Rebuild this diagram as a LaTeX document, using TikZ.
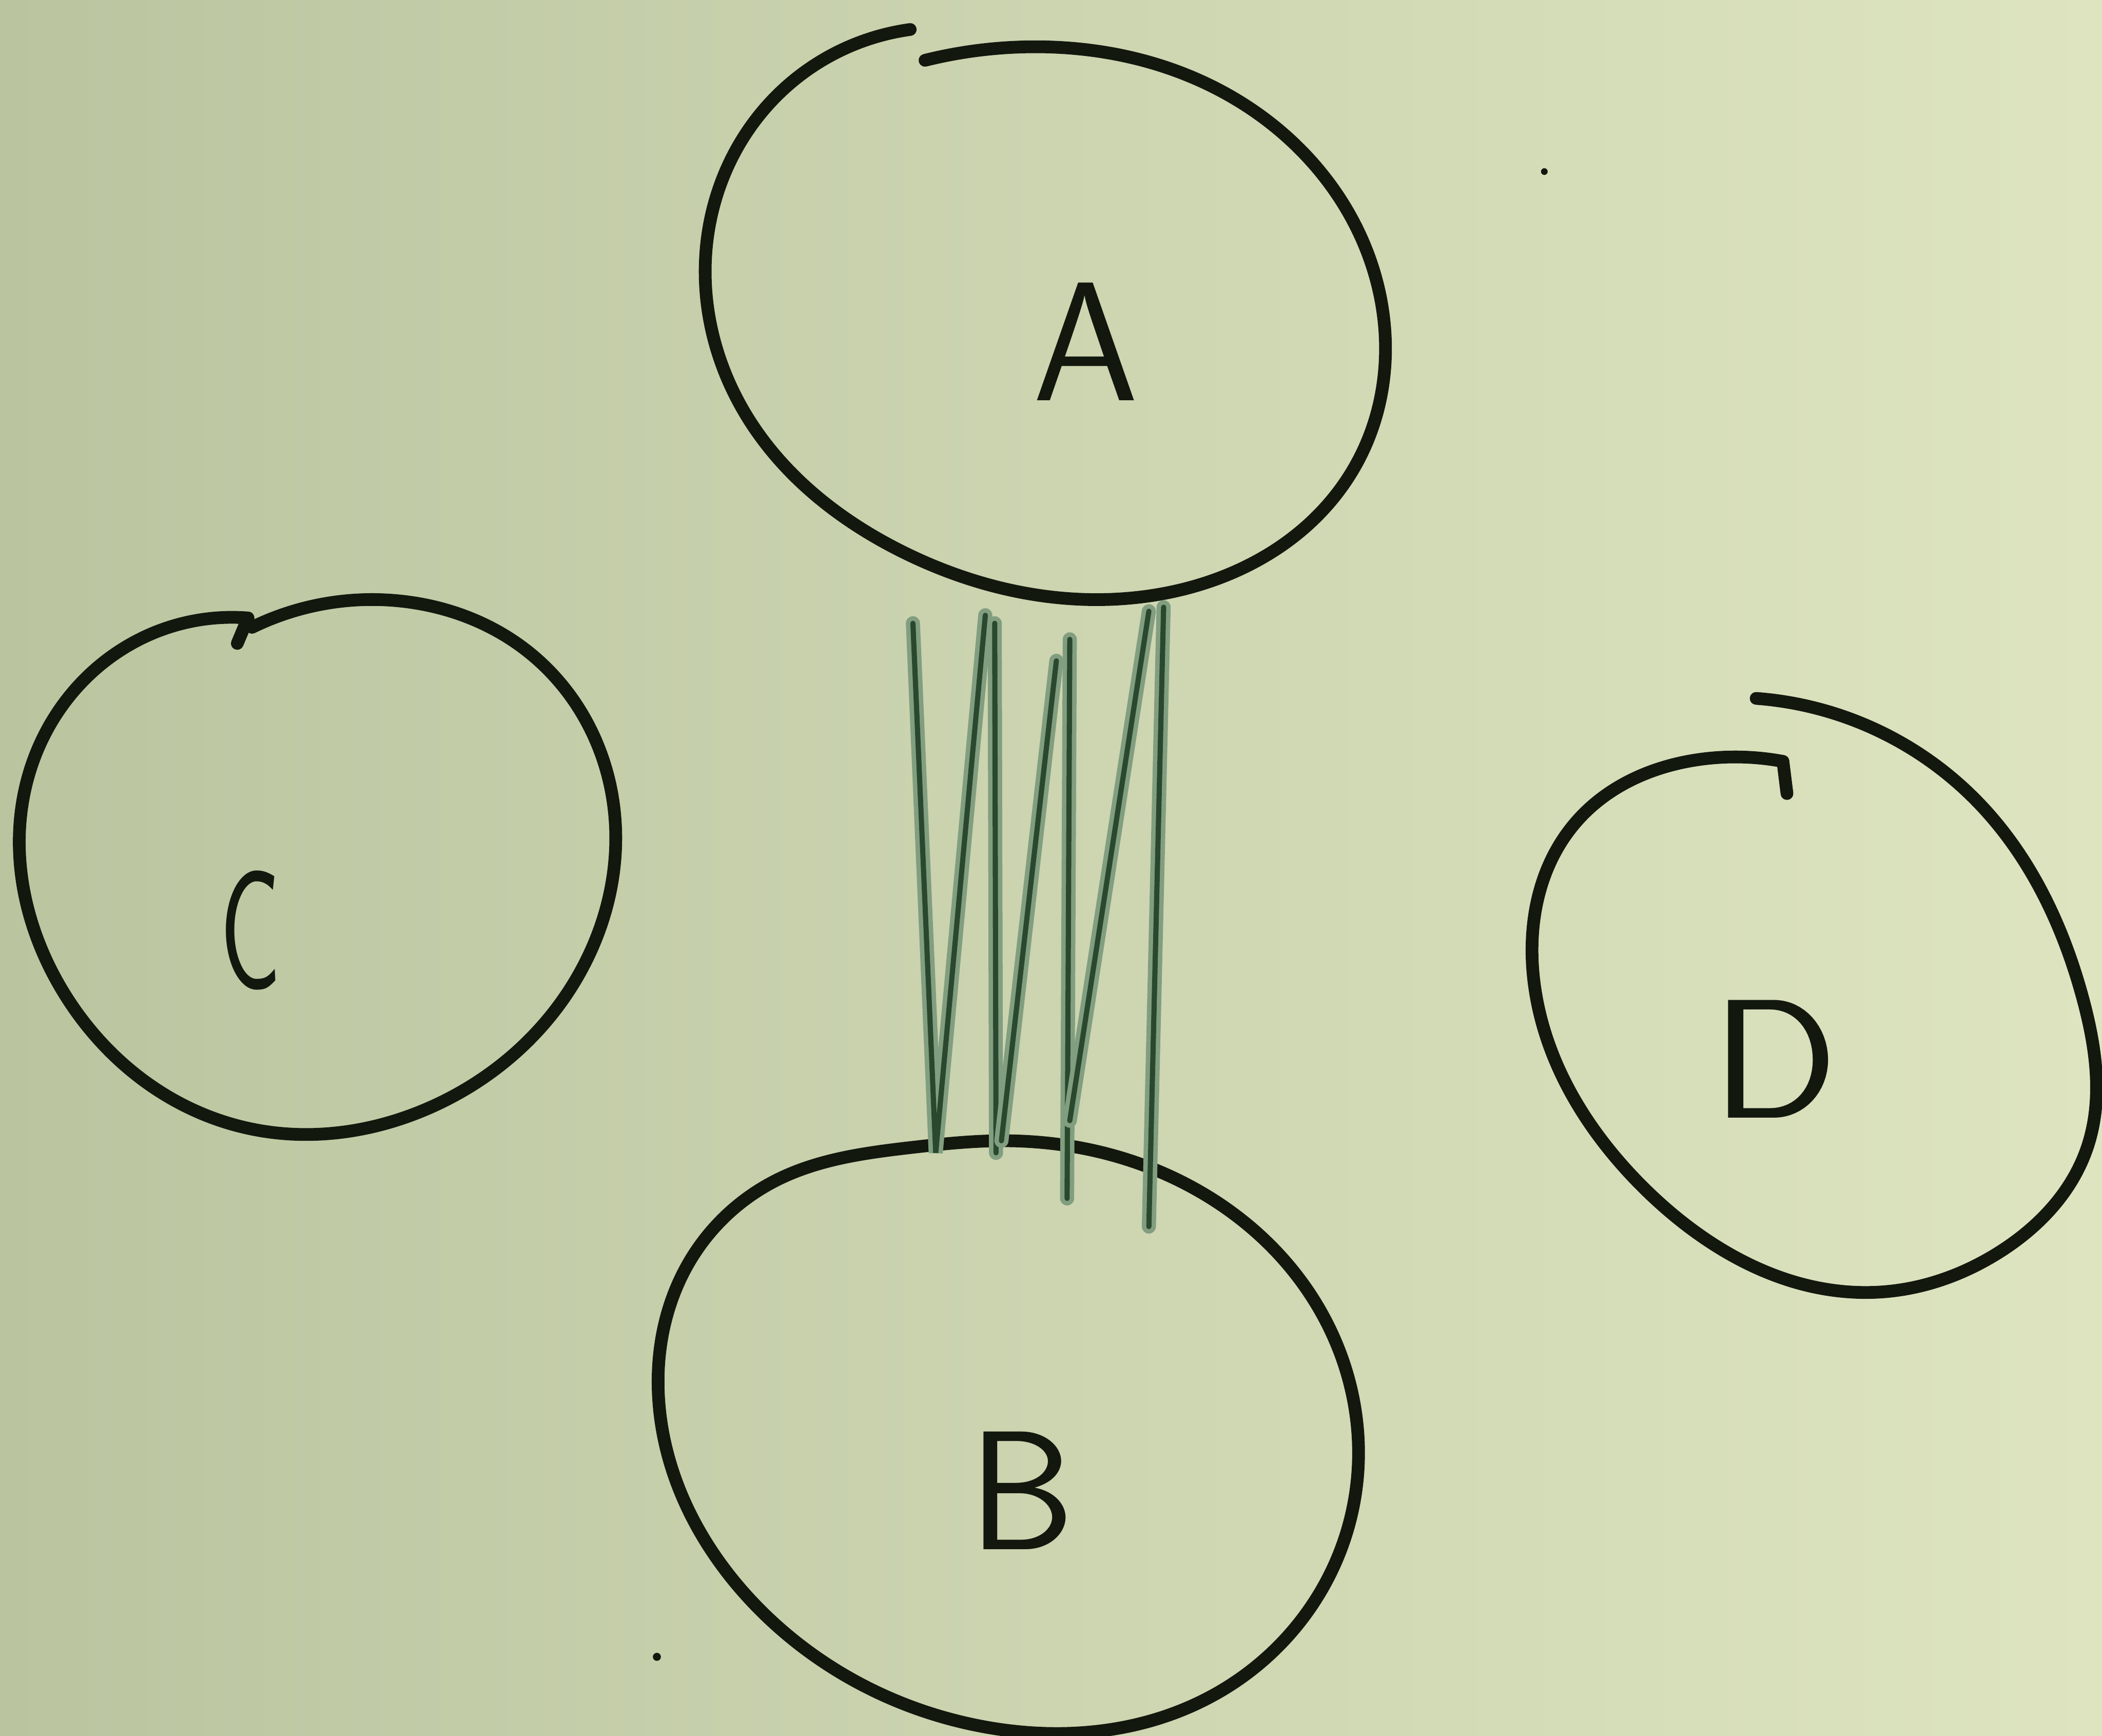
\documentclass[tikz,border=0pt]{standalone}
\usepackage{xcolor}
\usepackage{tikz}
\usetikzlibrary{calc}
\usetikzlibrary{hobby}
\usetikzlibrary{shapes.geometric}
\definecolor{paperleft}{RGB}{186,197,160}
\definecolor{papermid}{RGB}{208,218,182}
\definecolor{paperright}{RGB}{222,228,192}
\definecolor{inkblack}{RGB}{18,24,14}
\definecolor{strandgreen}{RGB}{42,72,46}
\definecolor{strandhalo}{RGB}{130,158,128}

\begin{document}
\begin{tikzpicture}[x=0.1mm,y=-0.1mm,
    pen/.style={inkblack,line width=2.7pt,line cap=round,line join=round,use Hobby shortcut},
    region/.style={ellipse,inner sep=0pt,outer sep=0pt},
    letter/.style={inner sep=0pt,text=inkblack,font=\sffamily\fontsize{36}{36}\selectfont},
    strand/.style={strandgreen,line width=1.1pt,line cap=round,
      preaction={draw=strandhalo,line width=3pt,line cap=round}}]
    \useasboundingbox (0,0) rectangle (1568,1295);
    \shade[left color=paperleft,middle color=papermid,right color=paperright]
      (0,0) rectangle (1568,1295);
    % the four regions
    \node[region,minimum width=50.2mm,minimum height=41mm] (A) at (779,240) {};
    \node[region,minimum width=51.8mm,minimum height=44.2mm] (B) at (750,1072) {};
    \node[region,minimum width=44.1mm,minimum height=39.7mm] (C) at (238,648) {};
    \node[region,minimum width=41.8mm,minimum height=44.3mm] (D) at (1353,742) {};
    \node[letter] (labA) at (810,255) {A};
    \node[letter] (labB) at (762,1112) {B};
    \node[letter] (labC) at (187,694) {\scalebox{0.6}[1]{C}};
    \node[letter] (labD) at (1324,790) {\scalebox{1.1}[1]{D}};
    % hand drawn outlines
    \draw[pen] (679,22) .. (584,67) .. (528,175) .. (555,307) .. (674,412)
      .. (854,445) .. (1009,351) .. (1027,210) .. (925,76) .. (764,35) .. (690,45);
    \draw[pen,closed=true] (680,856) .. (580,880) .. (515,940) .. (491,1037)
      .. (566,1200) .. (728,1287) .. (908,1263) .. (1009,1126) .. (985,978)
      .. (865,874) .. (750,851);
    \draw[pen] (188,468) .. (304,449) .. (395,487) .. (456,590) .. (440,711)
      .. (319,827) .. (182,841) .. (46,738) .. (22,576) .. (106,476) .. (185,461);
    \draw[pen] (185,461) -- (177,480);
    \draw[pen] (1310,521) .. (1475,598) .. (1554,746) .. (1557,856) .. (1490,935)
      .. (1400,964) .. (1228,888) .. (1144,730) .. (1175,614) .. (1272,566)
      .. (1330,568);
    \draw[pen] (1330,568) -- (1333,592);
    % the bundle between A and B
    \draw[strand] ($(A.south)+(-98,20)$) -- ($(B.north)+(-52,9)$)
      -- ($(A.south)+(-44,14)$);
    \draw[strand] ($(A.south)+(-37,20)$) -- ($(B.north)+(-7,9)$);
    \draw[strand] ($(B.north)+(-3,0)$) -- ($(A.south)+(9,48)$);
    \draw[strand] ($(A.south)+(19,32)$) -- ($(B.north)+(46,43)$);
    \draw[strand] ($(B.north)+(48,-15)$) -- ($(A.south)+(78,11)$);
    \draw[strand] ($(A.south)+(89,8)$) -- ($(B.north)+(107,64)$);
    % specks on the board
    \fill[inkblack] (1152,128) circle (2.5);
    \fill[inkblack] (490,1236) circle (3);
  \end{tikzpicture}
\end{document}
